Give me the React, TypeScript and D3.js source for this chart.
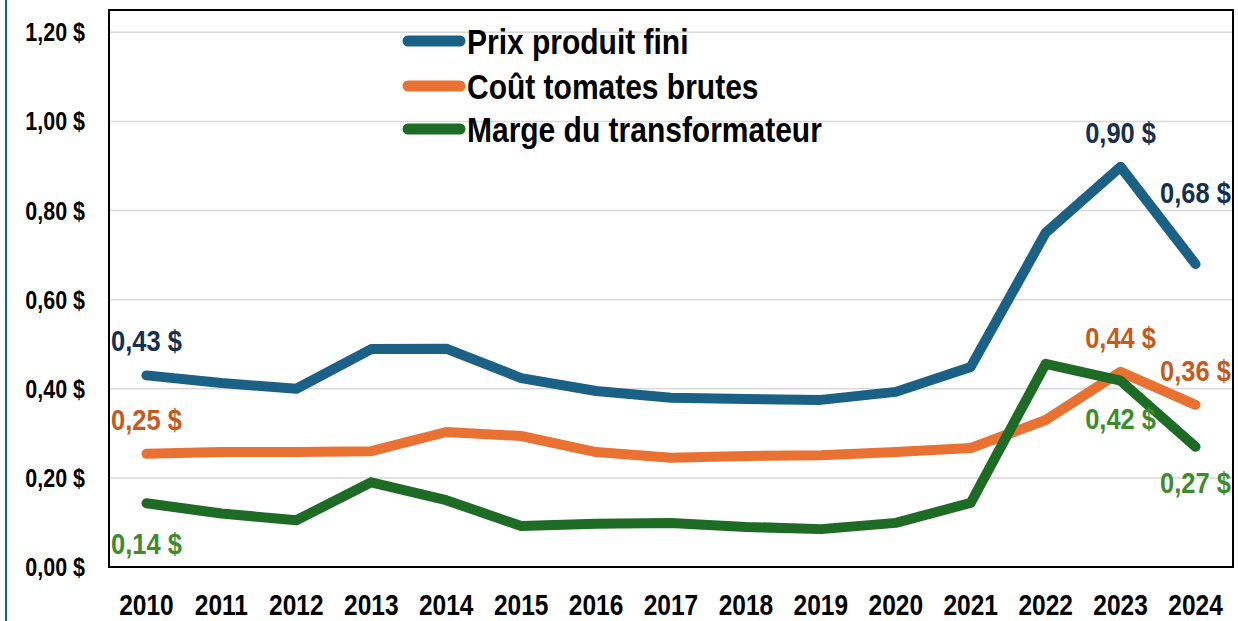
import React from "react";
import * as d3 from "d3";

const W = 1238,
  H = 621;
const plot = { left: 109, right: 1233, top: 10, bottom: 567 };
const FONT = "'Liberation Sans', Arial, sans-serif";
const SY = 1.17; // text in the picture is a bit taller than Arial

const years = [
  "2010", "2011", "2012", "2013", "2014", "2015", "2016", "2017",
  "2018", "2019", "2020", "2021", "2022", "2023", "2024",
];
const prixProduit = [
  0.43, 0.413, 0.4, 0.489, 0.49, 0.424, 0.395, 0.38, 0.377, 0.375, 0.393,
  0.449, 0.75, 0.898, 0.68,
];
const coutTomates = [
  0.254, 0.258, 0.258, 0.26, 0.303, 0.294, 0.258, 0.245, 0.249, 0.251, 0.258,
  0.267, 0.33, 0.438, 0.364,
];
const margeTransfo = [
  0.143, 0.12, 0.105, 0.19, 0.15, 0.092, 0.097, 0.099, 0.09, 0.085, 0.099,
  0.144, 0.456, 0.418, 0.27,
];
const yTicks = [0, 0.2, 0.4, 0.6, 0.8, 1.0, 1.2];

const series = [
  { name: "Prix produit fini", values: prixProduit, color: "#1b6186", label: "#15304f" },
  { name: "Coût tomates brutes", values: coutTomates, color: "#e97132", label: "#c55a1c" },
  { name: "Marge du transformateur", values: margeTransfo, color: "#1d6b25", label: "#3e8a2c" },
];

// which points get a value label, and how far above/below the line
const labels = [
  { s: 0, i: 0, dy: -35 },
  { s: 0, i: 13, dy: -35 },
  { s: 0, i: 14, dy: -72 },
  { s: 1, i: 0, dy: -35 },
  { s: 1, i: 13, dy: -35 },
  { s: 1, i: 14, dy: -35 },
  { s: 2, i: 0, dy: 40 },
  { s: 2, i: 13, dy: 38 },
  { s: 2, i: 14, dy: 36 },
];

const money = (v: number) => d3.format(".2f")(v).replace(".", ",") + " $";

function Txt(props: {
  x: number;
  y: number;
  size: number;
  fill: string;
  anchor?: string;
  children: React.ReactNode;
}) {
  const { x, y, size, fill, anchor = "middle", children } = props;
  return (
    <g transform={`translate(${x},${y}) scale(1,${SY})`}>
      <text
        dy="0.36em"
        textAnchor={anchor}
        fontFamily={FONT}
        fontWeight="bold"
        fontSize={size}
        fill={fill}
      >
        {children}
      </text>
    </g>
  );
}

export default function App() {
  const x = d3
    .scalePoint<string>()
    .domain(years)
    .range([plot.left, plot.right])
    .padding(0.5);
  const y = d3.scaleLinear().domain([0, 1.25]).range([plot.bottom, plot.top]);

  const line = d3
    .line<number>()
    .x((_, i) => x(years[i])!)
    .y((d) => y(d));

  return (
    <svg
      width={W}
      height={H}
      style={{ position: "absolute", left: 0, top: 0, background: "#fff" }}
    >
      <line x1={6} x2={6} y1={0} y2={H} stroke="#1f5f8b" strokeWidth={2} />

      {yTicks
        .filter((t) => t > 0)
        .map((t) => (
          <line
            key={t}
            x1={plot.left}
            x2={plot.right}
            y1={y(t)}
            y2={y(t)}
            stroke="#d9d9d9"
            strokeWidth={1.5}
          />
        ))}

      {yTicks.map((t) => (
        <Txt key={t} x={85} y={y(t)} size={21.5} fill="#000" anchor="end">
          {money(t)}
        </Txt>
      ))}

      {years.map((yr) => (
        <Txt key={yr} x={x(yr)!} y={605} size={24.5} fill="#000">
          {yr}
        </Txt>
      ))}

      {series.map((s) => (
        <path
          key={s.name}
          d={line(s.values)!}
          fill="none"
          stroke={s.color}
          strokeWidth={10}
          strokeLinejoin="round"
          strokeLinecap="round"
        />
      ))}

      {labels.map((l, k) => {
        const s = series[l.s];
        return (
          <Txt
            key={k}
            x={x(years[l.i])!}
            y={y(s.values[l.i]) + l.dy}
            size={25.5}
            fill={s.label}
          >
            {money(s.values[l.i])}
          </Txt>
        );
      })}

      {series.map((s, k) => {
        const cy = [41, 86, 129][k];
        return (
          <g key={s.name}>
            <line
              x1={408}
              x2={460}
              y1={cy}
              y2={cy}
              stroke={s.color}
              strokeWidth={11}
              strokeLinecap="round"
            />
            <Txt x={467} y={cy} size={30} fill="#000" anchor="start">
              {s.name}
            </Txt>
          </g>
        );
      })}

      <rect
        x={plot.left}
        y={plot.top}
        width={plot.right - plot.left}
        height={plot.bottom - plot.top}
        fill="none"
        stroke="#000"
        strokeWidth={2}
      />
    </svg>
  );
}
